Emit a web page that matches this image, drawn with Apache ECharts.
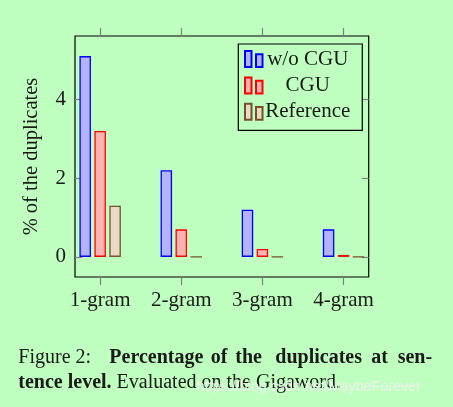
<!DOCTYPE html>
<html>
<head>
<meta charset="utf-8">
<script src="https://cdn.jsdelivr.net/npm/echarts@6/dist/echarts.min.js"></script>
<style>
html,body{margin:0;padding:0;background:#bfffbf;}
#c{width:453px;height:407px;}
</style>
</head>
<body>
<div id="c"></div>
<script>
const categories = ['1-gram', '2-gram', '3-gram', '4-gram'];
const categoryPositions = [1, 2, 3, 4];
const seriesNames = ['w/o CGU', 'CGU', 'Reference'];
const woCGU = [5.1, 2.2, 1.2, 0.7];
const CGU = [3.2, 0.7, 0.2, 0.05];
const reference = [1.3, 0, 0, 0];
const yTicks = [0, 2, 4];

const serif = '"Liberation Serif", "DejaVu Serif", serif';
const textColor = '#1a1a1a';

function pairs(vals) { return vals.map((v, i) => [categoryPositions[i], v]); }

const styles = [
  { color: '#b3b3ff', borderColor: '#0000ff' },
  { color: '#ffb3b3', borderColor: '#ff0000' },
  { color: '#ebd9c6', borderColor: '#774f2b' }
];
const datasets = [woCGU, CGU, reference];

const chart = echarts.init(document.getElementById('c'), null, { renderer: 'canvas' });

const legendIcon = 'path://M0,0h6.5v16h-6.5z M11,3.3h6.5v12.7h-6.5z';
const tickStyle = { color: '#808080', width: 1.2 };

chart.setOption({
  backgroundColor: '#bfffbf',
  animation: false,
  textStyle: { fontFamily: serif, color: textColor },
  grid: {
    left: 75, top: 36, width: 293.7, height: 241,
    show: true, borderColor: '#000', borderWidth: 1.2, backgroundColor: 'transparent'
  },
  legend: {
    left: 238.3, top: 44, orient: 'vertical',
    data: seriesNames,
    icon: legendIcon,
    itemWidth: 18, itemHeight: 16, itemGap: 5.4,
    padding: [4.5, 12, 8, 5.7],
    borderColor: '#000', borderWidth: 1.2,
    backgroundColor: 'transparent',
    formatter: '{a|{name}}',
    textStyle: {
      rich: {
        a: { fontFamily: serif, fontSize: 21, color: textColor, width: 80, align: 'center' }
      }
    }
  },
  xAxis: [
    {
      type: 'value', position: 'bottom', min: 0.69, max: 4.31,
      axisLine: { show: false, onZero: false },
      splitLine: { show: false },
      axisTick: { show: true, inside: false, length: 8, customValues: categoryPositions, lineStyle: tickStyle },
      axisLabel: {
        customValues: categoryPositions, margin: 13,
        fontFamily: serif, fontSize: 21, color: textColor,
        formatter: v => categories[categoryPositions.indexOf(v)] || ''
      }
    },
    {
      type: 'value', position: 'top', min: 0.69, max: 4.31,
      axisLine: { show: false, onZero: false },
      splitLine: { show: false },
      axisTick: { show: true, inside: false, length: 8, customValues: categoryPositions, lineStyle: tickStyle },
      axisLabel: { show: false }
    }
  ],
  yAxis: [
    {
      type: 'value', position: 'left', min: -0.51, max: 5.61,
      axisLine: { show: false, onZero: false },
      splitLine: { show: false },
      axisTick: { show: true, inside: true, length: 7, customValues: yTicks, lineStyle: tickStyle },
      axisLabel: { customValues: yTicks, margin: 9, fontFamily: serif, fontSize: 21, color: textColor }
    },
    {
      type: 'value', position: 'right', min: -0.51, max: 5.61,
      axisLine: { show: false, onZero: false },
      splitLine: { show: false },
      axisTick: { show: true, inside: true, length: 7, customValues: yTicks, lineStyle: tickStyle },
      axisLabel: { show: false }
    }
  ],
  series: seriesNames.map((name, i) => ({
    name: name, type: 'bar', xAxisIndex: 0, yAxisIndex: 0,
    barWidth: 11.5, barGap: '30%',
    itemStyle: { color: styles[i].color, borderColor: styles[i].borderColor, borderWidth: 1.3 },
    data: pairs(datasets[i])
  })),
  graphic: [
    {
      type: 'text', x: 32, y: 156.5, rotation: Math.PI / 2,
      style: { text: '% of the duplicates', font: '20.5px ' + serif, fill: textColor, align: 'center', verticalAlign: 'middle' }
    },
    // caption line 1 (justified words)
    { type: 'text', x: 18.3, y: 358, style: { text: 'Figure 2:', font: '20px ' + serif, fill: textColor, verticalAlign: 'middle' } },
    { type: 'text', x: 109.3, y: 358, style: { text: 'Percentage', font: 'bold 20px ' + serif, fill: textColor, verticalAlign: 'middle' } },
    { type: 'text', x: 210.7, y: 358, style: { text: 'of', font: 'bold 20px ' + serif, fill: textColor, verticalAlign: 'middle' } },
    { type: 'text', x: 235.3, y: 358, style: { text: 'the', font: 'bold 20px ' + serif, fill: textColor, verticalAlign: 'middle' } },
    { type: 'text', x: 275.3, y: 358, style: { text: 'duplicates', font: 'bold 20px ' + serif, fill: textColor, verticalAlign: 'middle' } },
    { type: 'text', x: 371.3, y: 358, style: { text: 'at', font: 'bold 20px ' + serif, fill: textColor, verticalAlign: 'middle' } },
    { type: 'text', x: 397.7, y: 358, style: { text: 'sen-', font: 'bold 20px ' + serif, fill: textColor, verticalAlign: 'middle' } },
    // caption line 2
    {
      type: 'text', x: 18.3, y: 383,
      style: {
        text: '{b|tence level.}{n| Evaluated on the Gigaword.}',
        verticalAlign: 'middle',
        rich: {
          b: { font: 'bold 20px ' + serif, fill: textColor },
          n: { font: '20px ' + serif, fill: textColor }
        }
      }
    },
    // watermark
    {
      type: 'text', x: 196.7, y: 386.7,
      style: { text: 'https://blog.csdn.net/MaybeForever', font: '14.3px "Liberation Sans", Arial, sans-serif', fill: 'rgba(240,240,240,0.95)', verticalAlign: 'middle' }
    }
  ]
});
</script>
</body>
</html>
